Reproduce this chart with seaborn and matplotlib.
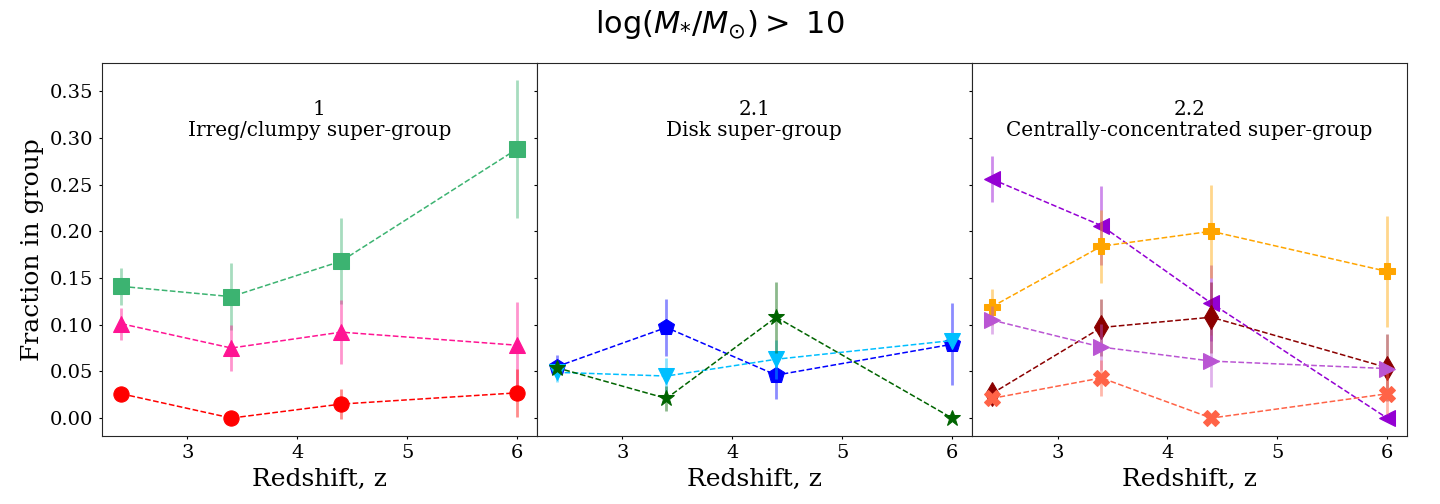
import numpy as np
import pandas as pd
import matplotlib.pyplot as plt
import seaborn as sns

# redshift bins
z = [2.4, 3.4, 4.4, 6.0]

# panel 1: irregular / clumpy super-group
irr_sq = [0.141, 0.130, 0.168, 0.288]
irr_sq_err = [0.020, 0.036, 0.046, 0.074]
irr_tri = [0.101, 0.075, 0.092, 0.078]
irr_tri_err = [0.017, 0.025, 0.034, 0.046]
irr_circ = [0.026, 0.0, 0.015, 0.027]
irr_circ_err = [0.004, 0.0, 0.016, 0.026]

# panel 2: disk super-group
disk_pent = [0.055, 0.097, 0.046, 0.079]
disk_pent_err = [0.012, 0.031, 0.026, 0.044]
disk_vtri = [0.049, 0.045, 0.063, 0.083]
disk_vtri_err = [0.010, 0.019, 0.021, 0.005]
disk_star = [0.054, 0.021, 0.108, 0.0]
disk_star_err = [0.004, 0.013, 0.038, 0.0]

# panel 3: centrally-concentrated super-group
cc_ltri = [0.256, 0.206, 0.123, 0.0]
cc_ltri_err = [0.025, 0.042, 0.041, 0.0]
cc_plus = [0.119, 0.184, 0.200, 0.157]
cc_plus_err = [0.019, 0.039, 0.050, 0.059]
cc_diam = [0.026, 0.097, 0.108, 0.054]
cc_diam_err = [0.008, 0.031, 0.038, 0.036]
cc_rtri = [0.105, 0.076, 0.061, 0.053]
cc_rtri_err = [0.015, 0.025, 0.028, 0.004]
cc_x = [0.021, 0.043, 0.0, 0.026]
cc_x_err = [0.004, 0.019, 0.0, 0.022]

panels = [
    ("1\nIrreg/clumpy super-group", [
        (irr_sq, irr_sq_err, "s", "mediumseagreen", 11),
        (irr_tri, irr_tri_err, "^", "deeppink", 11),
        (irr_circ, irr_circ_err, "o", "red", 11),
    ]),
    ("2.1\nDisk super-group", [
        (disk_pent, disk_pent_err, "p", "blue", 12),
        (disk_vtri, disk_vtri_err, "v", "deepskyblue", 12),
        (disk_star, disk_star_err, "*", "darkgreen", 12),
    ]),
    ("2.2\nCentrally-concentrated super-group", [
        (cc_ltri, cc_ltri_err, "<", "darkviolet", 12),
        (cc_plus, cc_plus_err, "P", "orange", 11),
        (cc_diam, cc_diam_err, "d", "darkred", 12),
        (cc_rtri, cc_rtri_err, ">", "mediumorchid", 12),
        (cc_x, cc_x_err, "X", "tomato", 11),
    ]),
]

sns.set_style("ticks")
plt.rcParams["font.family"] = "serif"
plt.rcParams["text.color"] = "black"
plt.rcParams["axes.labelcolor"] = "black"
plt.rcParams["xtick.color"] = "black"
plt.rcParams["ytick.color"] = "black"

fig, axes = plt.subplots(1, 3, figsize=(14.4, 5.04), dpi=100, sharey=True)
fig.subplots_adjust(left=0.0706, right=0.977, top=0.875, bottom=0.135, wspace=0)

for ax, (label, series) in zip(axes, panels):
    for vals, errs, m, c, ms in series:
        df = pd.DataFrame({"z": z, "frac": vals})
        ax.errorbar(z, vals, yerr=errs, fmt="none", ecolor=c, alpha=0.45, elinewidth=2)
        sns.lineplot(data=df, x="z", y="frac", ax=ax, color=c, marker=m,
                     markersize=ms, markeredgecolor=c, linestyle="--",
                     linewidth=1.1, errorbar=None)
    ax.text(0.5, 0.9, label, transform=ax.transAxes, ha="center", va="top",
            fontsize=14.4, linespacing=1.1)
    ax.set_xlabel("Redshift, z", fontsize=18)
    ax.set_ylabel("")
    ax.set_xticks([3, 4, 5, 6])
    ax.tick_params(labelsize=14, length=2.5)

axes[0].set_ylabel("Fraction in group", fontsize=18)
fig.suptitle(r"$\log(M_{*}/M_{\odot}) >\ 10$", fontsize=22, y=0.985)

fig.savefig("out.png", dpi=100)
